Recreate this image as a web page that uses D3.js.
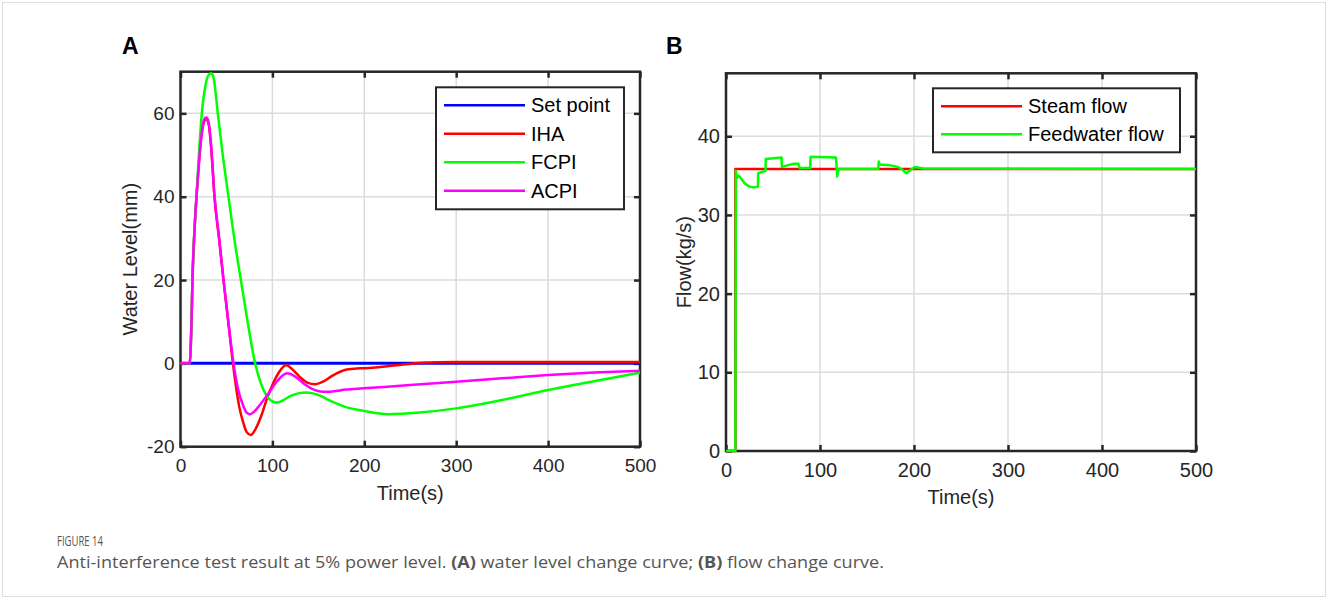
<!DOCTYPE html>
<html>
<head>
<meta charset="utf-8">
<script src="https://cdnjs.cloudflare.com/ajax/libs/d3/7.8.5/d3.min.js"></script>
<style>
  body { margin: 0; background: #fff; }
  text { font-family: "Liberation Sans", Arial, Helvetica, sans-serif; }
</style>
</head>
<body>
<div id="chart"></div>
<script>
// ---- panel A : water level (mm) ----
var timeSet = [0, 500];
var setPoint = [0, 0];

var timeIHA  = [0, 10, 11, 12, 13, 15, 17.4, 20, 23, 26, 28, 31, 34, 37, 42, 46.8, 52, 56, 60, 64, 68, 72, 76.6, 81, 88, 94, 100, 107, 115, 122, 130, 138, 146.5, 155, 165, 175, 181, 195, 205, 230, 264, 300, 400, 500];
var levelIHA = [0, 0, 3, 10, 20, 31, 40, 48, 55, 58.2, 58.6, 57, 50, 40, 30, 20, 10, 2, -5, -10.5, -14, -16.5, -17.2, -16, -12.5, -8.5, -5.2, -2.2, -0.4, -1.5, -3.3, -4.6, -5.0, -4.4, -3, -1.9, -1.45, -1.2, -1.1, -0.6, 0.15, 0.3, 0.35, 0.35];

var timeFCPI  = [0, 10, 11, 12, 13, 15, 17.4, 20, 23.2, 27, 30, 33.4, 36, 40.6, 46, 52.2, 58.5, 65.7, 73, 81.2, 87, 93, 99, 104.8, 112, 120, 128, 137.5, 150, 165, 180, 199, 226, 260, 300, 350, 400, 450, 500];
var levelFCPI = [0, 0, 3, 10, 20, 31, 40, 50, 60, 66.5, 69, 69.6, 68.5, 60, 50, 40, 30, 20, 10, 0, -4.5, -7.5, -9, -9.4, -8.8, -7.8, -7.2, -7.0, -7.6, -9.2, -10.5, -11.4, -12.2, -11.8, -10.8, -8.8, -6.4, -4.3, -2.25];

var timeACPI  = [0, 10, 11, 12, 13, 15, 17.4, 20, 23, 26, 28, 30, 33, 37, 42, 46.8, 52, 57.7, 63, 68, 72, 75.8, 80, 88, 97, 105, 116, 125, 135, 145, 155, 163, 180, 199, 250, 300, 350, 400, 450, 500];
var levelACPI = [0, 0, 3, 10, 20, 31, 40, 48, 55, 58.6, 59, 58.4, 53, 40, 30, 20, 10, 0, -6.5, -10, -11.8, -12.2, -11.6, -9.5, -6.8, -4.3, -2.4, -3.2, -5, -6.3, -6.8, -6.8, -6.3, -6.0, -5.2, -4.4, -3.6, -2.8, -2.2, -1.8];

var namesA = ["Set point", "IHA", "FCPI", "ACPI"];
var colorsA = ["#0000ff", "#ff0000", "#00ff00", "#ff00ff"];
var ticksAX = [0, 100, 200, 300, 400, 500];
var ticksAY = [-20, 0, 20, 40, 60];

// ---- panel B : flow (kg/s) ----
var timeSteam = [0, 10, 10, 500];
var flowSteam = [0, 0, 35.85, 35.85];

var timeFeed = [0, 10, 10.5, 11, 13, 15, 20, 25, 29, 34, 34.2, 42, 42.3, 59, 59.5, 65, 72, 77, 78.5, 89.5, 90, 117, 118.3, 119, 120, 162, 162.5, 163.5, 175, 183, 188, 192, 195, 201, 210, 500];
var flowFeed = [0, 0, 35.6, 34.6, 35, 34.8, 34.0, 33.6, 33.5, 33.6, 35.3, 35.6, 37.1, 37.3, 36.1, 36.3, 36.5, 36.5, 35.95, 35.95, 37.4, 37.3, 34.9, 35.4, 35.85, 35.85, 36.8, 36.4, 36.3, 36.1, 35.7, 35.3, 35.6, 36.1, 35.9, 35.85];

var namesB = ["Steam flow", "Feedwater flow"];
var colorsB = ["#ff0000", "#00ff00"];
var ticksBX = [0, 100, 200, 300, 400, 500];
var ticksBY = [0, 10, 20, 30, 40];

var ink = "#262626";

var svg = d3.select("#chart").append("svg")
    .attr("width", 1328)
    .attr("height", 599);

svg.append("rect")
    .attr("width", 1328).attr("height", 599)
    .attr("fill", "#fff");

// light page frame
svg.append("rect")
    .attr("x", 2.5).attr("y", 2.5)
    .attr("width", 1323).attr("height", 594)
    .attr("fill", "none")
    .attr("stroke", "#dedede");

function zip(t, v) {
    return t.map(function(d, i) { return [d, v[i]]; });
}

function panel(cfg) {
    var x = d3.scaleLinear().domain([0, 500]).range([cfg.left, cfg.right]);
    var y = d3.scaleLinear().domain(cfg.yDomain).range([cfg.bottom, cfg.top]);
    var g = svg.append("g");
    var plain = d => String(d);  // hyphen minus like the original

    // grid
    g.selectAll("line.gx").data(cfg.xTicks.slice(1, -1)).enter().append("line")
        .attr("x1", d => x(d)).attr("x2", d => x(d))
        .attr("y1", cfg.top).attr("y2", cfg.bottom)
        .attr("stroke", "#dcdcdc").attr("stroke-width", 1.5);
    g.selectAll("line.gy").data(cfg.yTicks.filter(d => d !== cfg.yDomain[0])).enter().append("line")
        .attr("y1", d => y(d)).attr("y2", d => y(d))
        .attr("x1", cfg.left).attr("x2", cfg.right)
        .attr("stroke", "#dcdcdc").attr("stroke-width", 1.5);

    // axes with inward ticks
    var ax = [
        { a: d3.axisBottom(x).tickValues(cfg.xTicks).tickSize(-6).tickPadding(12).tickFormat(plain), t: "translate(0," + cfg.bottom + ")" },
        { a: d3.axisTop(x).tickValues(cfg.xTicks).tickSize(-6).tickFormat(""), t: "translate(0," + cfg.top + ")" },
        { a: d3.axisLeft(y).tickValues(cfg.yTicks).tickSize(-6).tickPadding(6).tickFormat(plain), t: "translate(" + cfg.left + ",0)" },
        { a: d3.axisRight(y).tickValues(cfg.yTicks).tickSize(-6).tickFormat(""), t: "translate(" + cfg.right + ",0)" }
    ];
    ax.forEach(function(o) {
        var s = g.append("g").attr("transform", o.t).call(o.a);
        s.select(".domain").remove();
        s.selectAll("line").attr("stroke", ink).attr("stroke-width", 2.5);
        s.selectAll("text").attr("fill", ink).style("font-size", cfg.fontSize + "px")
            .style("font-family", '"Liberation Sans", Arial, sans-serif');
    });

    // box
    g.append("rect")
        .attr("x", cfg.left).attr("y", cfg.top)
        .attr("width", cfg.right - cfg.left).attr("height", cfg.bottom - cfg.top)
        .attr("fill", "none").attr("stroke", ink).attr("stroke-width", 2.5);

    // curves
    var line = d3.line()
        .x(d => x(d[0])).y(d => y(d[1]))
        .curve(cfg.curve);
    cfg.series.forEach(function(s, i) {
        g.append("path")
            .attr("d", line(s))
            .attr("fill", "none")
            .attr("stroke", cfg.colors[i])
            .attr("stroke-width", cfg.widths[i])
            .attr("stroke-linejoin", "round");
    });

    // axis titles
    g.append("text")
        .attr("x", (cfg.left + cfg.right) / 2).attr("y", cfg.bottom + 53)
        .attr("text-anchor", "middle").attr("fill", ink)
        .style("font-size", "20px")
        .text("Time(s)");
    g.append("text")
        .attr("transform", "translate(" + cfg.yLabelX + "," + (cfg.top + cfg.bottom) / 2 + ") rotate(-90)")
        .attr("text-anchor", "middle").attr("fill", ink)
        .style("font-size", "20px")
        .text(cfg.yLabel);

    // panel letter
    g.append("text")
        .attr("x", cfg.letterX).attr("y", 54)
        .attr("fill", "#000").style("font-size", "23px").style("font-weight", "bold")
        .text(cfg.letter);

    // legend
    var lg = cfg.legend;
    g.append("rect")
        .attr("x", lg.x).attr("y", lg.y)
        .attr("width", lg.w).attr("height", lg.h)
        .attr("fill", "#fff").attr("stroke", ink).attr("stroke-width", 2);
    var row = g.selectAll("g.leg").data(cfg.names).enter().append("g")
        .attr("transform", (d, i) => "translate(" + lg.x + "," + (lg.y + lg.first + i * lg.step) + ")");
    row.append("line")
        .attr("x1", 8).attr("x2", 89)
        .attr("stroke", (d, i) => cfg.colors[i]).attr("stroke-width", 2.5);
    row.append("text")
        .attr("x", 95).attr("dy", "0.35em")
        .attr("fill", "#000").style("font-size", "20px")
        .text(d => d);
}

panel({
    left: 180.5, right: 640, top: 71.7, bottom: 446.7,
    yDomain: [-20, 70], xTicks: ticksAX, yTicks: ticksAY,
    fontSize: 19, yLabel: "Water Level(mm)", yLabelX: 137, letter: "A", letterX: 122,
    curve: d3.curveMonotoneX,
    series: [zip(timeSet, setPoint), zip(timeIHA, levelIHA), zip(timeFCPI, levelFCPI), zip(timeACPI, levelACPI)],
    colors: colorsA, widths: [3, 2.5, 2.5, 2.5], names: namesA,
    legend: { x: 436, y: 87.3, w: 188, h: 122, first: 18, step: 28.5 }
});

panel({
    left: 726, right: 1196, top: 73.3, bottom: 451,
    yDomain: [0, 48], xTicks: ticksBX, yTicks: ticksBY,
    fontSize: 20, yLabel: "Flow(kg/s)", yLabelX: 691, letter: "B", letterX: 666,
    curve: d3.curveLinear,
    series: [zip(timeSteam, flowSteam), zip(timeFeed, flowFeed)],
    colors: colorsB, widths: [2.5, 2.5], names: namesB,
    legend: { x: 933, y: 88.3, w: 247, h: 64, first: 18, step: 28 }
});

// caption
svg.append("text")
    .attr("x", 57).attr("y", 546)
    .attr("fill", "#555")
    .attr("textLength", 46).attr("lengthAdjust", "spacingAndGlyphs")
    .style("font-family", '"Open Sans", sans-serif').style("font-size", "14px")
    .text("FIGURE 14");

var cap = svg.append("text")
    .attr("x", 57).attr("y", 568)
    .attr("fill", "#555")
    .attr("textLength", 827).attr("lengthAdjust", "spacingAndGlyphs")
    .style("font-family", '"Open Sans", sans-serif').style("font-size", "15.5px");
cap.append("tspan").text("Anti-interference test result at 5% power level. ");
cap.append("tspan").style("font-weight", "bold").text("(A)");
cap.append("tspan").text(" water level change curve; ");
cap.append("tspan").style("font-weight", "bold").text("(B)");
cap.append("tspan").text(" flow change curve.");
</script>
</body>
</html>
